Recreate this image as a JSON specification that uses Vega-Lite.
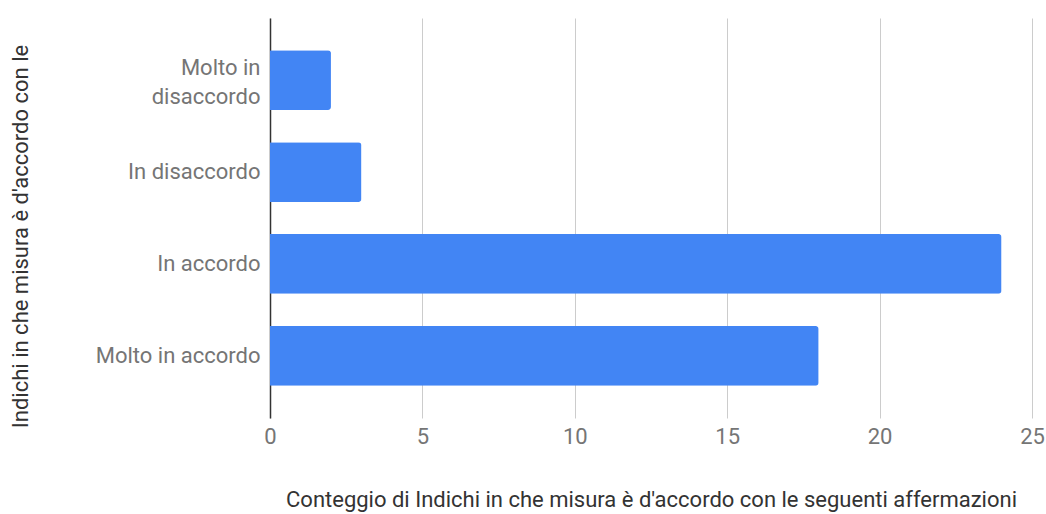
{
  "$schema": "https://vega.github.io/schema/vega-lite/v6.json",
  "autosize": "none",
  "width": 762,
  "height": 400,
  "padding": {"left": 270, "top": 18, "right": 14, "bottom": 96},
  "background": "white",
  "data": {
    "values": [
      {"risposta": "Molto in disaccordo", "conteggio": 2},
      {"risposta": "In disaccordo", "conteggio": 3},
      {"risposta": "In accordo", "conteggio": 24},
      {"risposta": "Molto in accordo", "conteggio": 18}
    ]
  },
  "mark": {"type": "bar", "color": "#4285F4", "cornerRadiusEnd": 3},
  "encoding": {
    "y": {
      "field": "risposta",
      "type": "nominal",
      "sort": ["Molto in disaccordo", "In disaccordo", "In accordo", "Molto in accordo"],
      "scale": {"paddingInner": 0.35, "paddingOuter": 0.35},
      "axis": {
        "title": "Indichi in che misura è d'accordo con le",
        "titleFont": "Roboto",
        "titleFontSize": 22,
        "titleFontWeight": "normal",
        "titleColor": "#333333",
        "titleX": -250,
        "titleY": 218,
        "titleAngle": -90,
        "titleAlign": "center",
        "titleBaseline": "middle",
        "labelFont": "Roboto",
        "labelFontSize": 22,
        "labelColor": "#757575",
        "labelPadding": 10,
        "labelLineHeight": 29,
        "labelOffset": {"condition": {"test": "datum.value == 'Molto in disaccordo'", "value": -12}, "value": 0},
        "labelExpr": "datum.value == 'Molto in disaccordo' ? ['Molto in', 'disaccordo'] : datum.value",
        "ticks": false,
        "domain": true,
        "domainColor": "#333333",
        "domainWidth": 1.5,
        "grid": false
      }
    },
    "x": {
      "field": "conteggio",
      "type": "quantitative",
      "scale": {"domain": [0, 25], "nice": false},
      "axis": {
        "title": "Conteggio di Indichi in che misura è d'accordo con le seguenti affermazioni",
        "titleFont": "Roboto",
        "titleFontSize": 22,
        "titleFontWeight": "normal",
        "titleColor": "#333333",
        "titlePadding": 42,
        "values": [0, 5, 10, 15, 20, 25],
        "labelFont": "Roboto",
        "labelFontSize": 22,
        "labelColor": "#757575",
        "labelPadding": 8,
        "labelFlush": false,
        "ticks": false,
        "domain": false,
        "grid": true,
        "gridColor": "#cccccc",
        "gridWidth": 1
      }
    }
  },
  "config": {"view": {"stroke": null}}
}
